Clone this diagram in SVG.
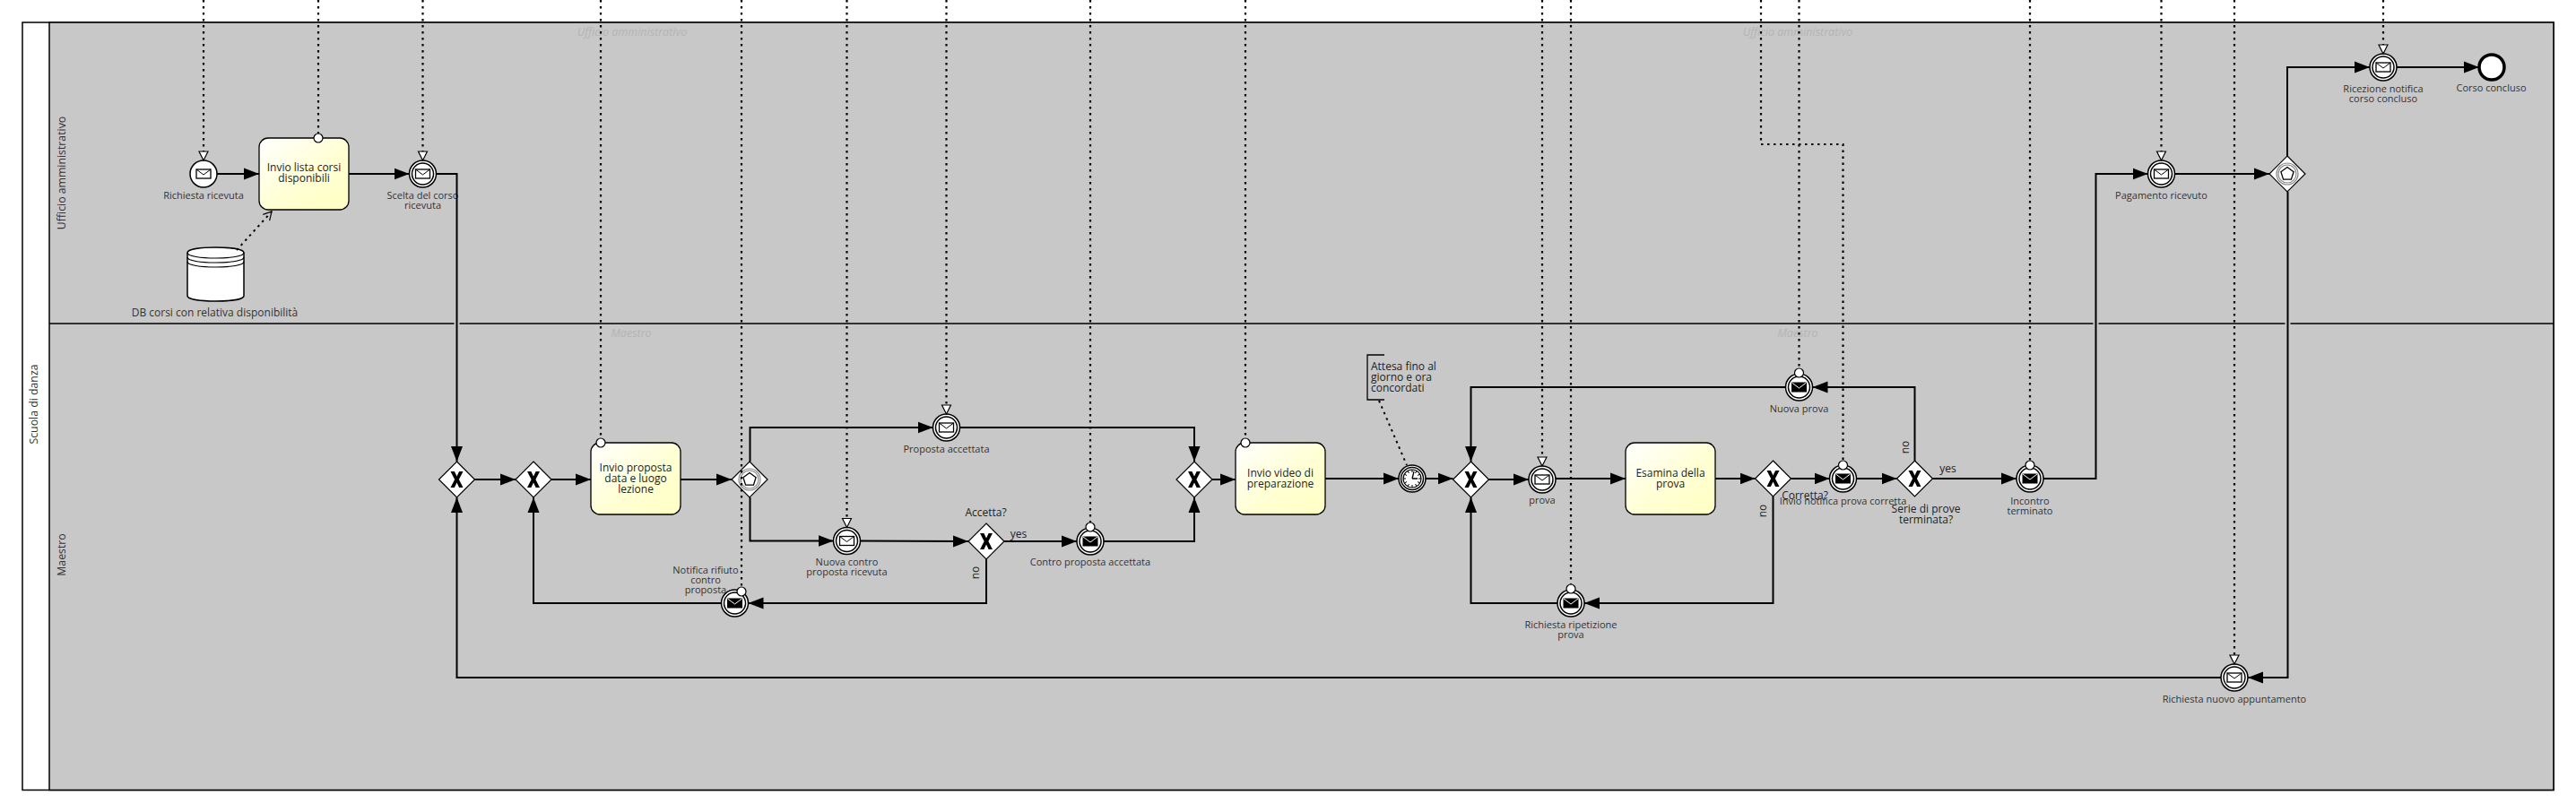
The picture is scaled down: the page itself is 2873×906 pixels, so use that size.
<svg xmlns="http://www.w3.org/2000/svg" xmlns:xlink="http://www.w3.org/1999/xlink" width="2873" height="906" viewBox="0 0 2873 906">
<style>
text{font-family:"Open Sans","Noto Sans","Liberation Sans",sans-serif;font-size:11px;fill:#333}
.c{text-anchor:middle}
.t{font-size:12px;fill:#222}
.w{font-size:12.500px;font-style:italic;fill:#b4b4b4}
.lane{font-size:12.300px;fill:#333;text-anchor:middle}
.seq{fill:none;stroke:#000;stroke-width:2;marker-end:url(#arrow)}
.msgin{fill:none;stroke:#000;stroke-width:2.200;stroke-dasharray:2.500 4.500;marker-end:url(#tri)}
.msgout{fill:none;stroke:#000;stroke-width:2.200;stroke-dasharray:2.500 4.500;marker-end:url(#dot)}
.assoc{fill:none;stroke:#000;stroke-width:2;stroke-dasharray:2.500 4.500}
.task{fill:url(#tg);stroke:#000;stroke-width:1.300}
.ev{fill:#fff;stroke:#000;stroke-width:1.500}
.gw{fill:#fff;stroke:#000;stroke-width:1.200}
</style>
<defs>
<linearGradient id="tg" x1="0" y1="0" x2="1" y2="1"><stop offset="0" stop-color="#ffffff"/><stop offset="0.55" stop-color="#ffffd4"/><stop offset="1" stop-color="#ffffc4"/></linearGradient>
<marker id="arrow" markerUnits="userSpaceOnUse" markerWidth="18" markerHeight="14" refX="17" refY="7" orient="auto"><path d="M0 .5L17 7L0 13.500z" fill="#000"/></marker>
<marker id="tri" markerUnits="userSpaceOnUse" markerWidth="14" markerHeight="14" refX="11" refY="6" orient="auto"><path d="M1 1L11 6L1 11z" fill="#fff" stroke="#000" stroke-width="1.200"/></marker>
<marker id="dot" markerUnits="userSpaceOnUse" markerWidth="14" markerHeight="14" refX="7" refY="7" orient="auto"><circle cx="7" cy="7" r="5" fill="#fff" stroke="#000" stroke-width="1.200"/></marker>
<marker id="open" markerUnits="userSpaceOnUse" markerWidth="14" markerHeight="14" refX="11" refY="7" orient="auto"><path d="M2 2L11 7L2 12" fill="none" stroke="#000" stroke-width="1.200"/></marker>
<g id="catch"><circle class="ev" r="15"/><circle class="ev" r="12" stroke-width="1.200"/><rect x="-8" y="-5" width="16" height="10" fill="#fff" stroke="#000" stroke-width="1.300"/><path d="M-8-5L0 1L8-5" fill="none" stroke="#000" stroke-width="1"/></g>
<g id="throw"><circle class="ev" r="15"/><circle class="ev" r="12" stroke-width="1.200"/><rect x="-8" y="-5" width="16" height="10" fill="#000" stroke="#000" stroke-width="1"/><path d="M-8-5L0 1L8-5" fill="none" stroke="#fff" stroke-width="1"/></g>
<g id="xor"><path class="gw" d="M0-20L20 0L0 20L-20 0z"/><path d="M-7-9H-2.600L0-3.600L2.600-9H7L2.400 0L7 9H2.600L0 3.600L-2.600 9H-7L-2.400 0z" fill="#000"/></g>
<g id="evgw"><path class="gw" d="M0-20L20 0L0 20L-20 0z"/><circle r="12" fill="none" stroke="#888" stroke-width="1.200"/><circle r="10" fill="none" stroke="#888" stroke-width="1.200"/><path d="M0-7.500L7.100-2.300L4.400 6.100H-4.400L-7.100-2.300z" fill="#fff" stroke="#000" stroke-width="1.300"/></g>
</defs>
<rect width="2873" height="906" fill="#fff"/>
<g id="pool">
<rect x="25" y="25" width="2823" height="856.500" fill="#fff" stroke="#000" stroke-width="1.500"/>
<rect x="55" y="25" width="2793" height="856.500" fill="#c8c8c8" stroke="#000" stroke-width="1.500"/>
<path d="M55 361H2848" stroke="#000" stroke-width="1.500"/>
<text class="lane" transform="translate(38 451) rotate(-90)" dy="4">Scuola di danza</text>
<text class="lane" transform="translate(69 193) rotate(-90)" dy="4">Ufficio amministrativo</text>
<text class="lane" transform="translate(69 619) rotate(-90)" dy="4">Maestro</text>
<text class="w c" x="705" y="40">Ufficio amministrativo</text>
<text class="w c" x="2005" y="40">Ufficio amministrativo</text>
<text class="w c" x="704" y="376">Maestro</text>
<text class="w c" x="2005" y="376">Maestro</text>
</g>
<g id="db"><path class="ev" d="M209 282C209 278 224 276 240.500 276C257 276 272 278 272 282V330C272 334 257 336 240.500 336C224 336 209 334 209 330z" stroke-width="1.300"/><path d="M209 282C209 286 224 288 240.500 288C257 288 272 286 272 282M209 287C209 291 224 293 240.500 293C257 293 272 291 272 287M209 292C209 296 224 298 240.500 298C257 298 272 296 272 292" fill="none" stroke="#000" stroke-width="1.200"/><text class="c" x="239.500" y="353" style="font-size:12px">DB corsi con relativa disponibilità</text></g>
<g id="n1"><circle class="ev" cx="227" cy="194" r="15"/><rect x="219" y="189" width="16" height="10" fill="#fff" stroke="#000" stroke-width="1.300"/><path d="M219 189L227 195L235 189" fill="none" stroke="#000"/><text class="c" x="227" y="222">Richiesta ricevuta</text></g>
<g id="n2"><rect class="task" x="289" y="154" width="100" height="80" rx="10"/><text class="t c" x="339" y="191">Invio lista corsi</text><text class="t c" x="339" y="203">disponibili</text></g>
<g id="n3"><use href="#catch" x="471.500" y="194"/><text class="c" x="471.500" y="222">Scelta del corso</text><text class="c" x="471.500" y="233">ricevuta</text></g>
<g id="n4"><use href="#xor" x="509.500" y="535"/></g>
<g id="n5"><use href="#xor" x="595" y="535"/></g>
<g id="n6"><rect class="task" x="659" y="494" width="100" height="80" rx="10"/><text class="t c" x="709" y="526">Invio proposta</text><text class="t c" x="709" y="538">data e luogo</text><text class="t c" x="709" y="550">lezione</text></g>
<g id="n7"><use href="#evgw" x="836" y="535"/></g>
<g id="n8"><use href="#catch" x="1055.500" y="477"/><text class="c" x="1055.500" y="505">Proposta accettata</text></g>
<g id="n9"><use href="#catch" x="944.500" y="603.500"/><text class="c" x="944.500" y="631">Nuova contro</text><text class="c" x="944.500" y="642">proposta ricevuta</text></g>
<g id="n10"><use href="#xor" x="1100" y="604"/><text class="t c" x="1099.500" y="576">Accetta?</text></g>
<g id="n11"><use href="#throw" x="819.500" y="673"/><text class="c" x="787" y="640">Notifica rifiuto</text><text class="c" x="787" y="651">contro</text><text class="c" x="787" y="662">proposta</text></g>
<g id="n12"><use href="#throw" x="1216" y="604"/><text class="c" x="1216" y="631">Contro proposta accettata</text></g>
<g id="n13"><use href="#xor" x="1332" y="535"/></g>
<g id="n14"><rect class="task" x="1378" y="494" width="100" height="80" rx="10"/><text class="t c" x="1428" y="532">Invio video di</text><text class="t c" x="1428" y="544">preparazione</text></g>
<g id="n15"><circle class="ev" cx="1575" cy="534" r="15"/><circle class="ev" cx="1575" cy="534" r="12.500" stroke-width="1.200"/><circle cx="1575" cy="534" r="10" fill="#fff" stroke="#000" stroke-width="1.200"/><path d="M1575 524V527M1575 541V544M1565 534H1568M1582 534H1585M1580 525.300L1578.500 528M1570 542.700L1571.500 540M1583.700 529L1581 530.500M1566.300 539L1569 537.500M1580 542.700L1578.500 540M1570 525.300L1571.500 528M1583.700 539L1581 537.500M1566.300 529L1569 530.500" stroke="#000" stroke-width="1"/><path d="M1575 534L1577 526M1575 534H1581" fill="none" stroke="#000" stroke-width="1.300"/></g>
<g id="n16"><path d="M1544 396H1525V446H1544" fill="none" stroke="#000" stroke-width="1.300"/><text class="t" x="1529" y="413">Attesa fino al</text><text class="t" x="1529" y="425">giorno e ora</text><text class="t" x="1529" y="437">concordati</text></g>
<g id="n17"><use href="#xor" x="1640.500" y="535"/></g>
<g id="n18"><use href="#catch" x="1720" y="535"/><text class="c" x="1720" y="562">prova</text></g>
<g id="n19"><rect class="task" x="1813" y="494" width="100" height="80" rx="10"/><text class="t c" x="1863" y="532">Esamina della</text><text class="t c" x="1863" y="544">prova</text></g>
<g id="n20"><use href="#xor" x="1977.500" y="534"/><text class="t c" x="2013" y="557">Corretta?</text></g>
<g id="n21"><use href="#throw" x="2055.500" y="534"/><text class="c" x="2055.500" y="563">Invio notifica prova corretta</text></g>
<g id="n22"><use href="#xor" x="2135.500" y="534"/><text class="t c" x="2148" y="572">Serie di prove</text><text class="t c" x="2148" y="584">terminata?</text></g>
<g id="n23"><use href="#throw" x="2264" y="534"/><text class="c" x="2264" y="563">Incontro</text><text class="c" x="2264" y="574">terminato</text></g>
<g id="n24"><use href="#throw" x="2006.500" y="432"/><text class="c" x="2006.500" y="460">Nuova prova</text></g>
<g id="n25"><use href="#throw" x="1752" y="673"/><text class="c" x="1752" y="701">Richiesta ripetizione</text><text class="c" x="1752" y="712">prova</text></g>
<g id="n26"><use href="#catch" x="2492" y="756"/><text class="c" x="2492" y="784">Richiesta nuovo appuntamento</text></g>
<g id="n27"><use href="#catch" x="2410.500" y="194"/><text class="c" x="2410.500" y="222">Pagamento ricevuto</text></g>
<g id="n28"><use href="#evgw" x="2551" y="194"/></g>
<g id="n29"><use href="#catch" x="2658" y="75"/><text class="c" x="2658" y="103">Ricezione notifica</text><text class="c" x="2658" y="114">corso concluso</text></g>
<g id="n30"><circle cx="2779" cy="75" r="14" fill="#fff" stroke="#000" stroke-width="3.500"/><text class="c" x="2778.500" y="102">Corso concluso</text></g>
<g id="connectors">
<path d="M506.500 361H512.500M2334.500 361H2340.500M2548.500 361H2554.500" stroke="#c8c8c8" stroke-width="3"/>
<path class="seq" d="M242 194H289"/>
<path class="seq" d="M389 194H456.500"/>
<path class="seq" d="M486.500 194H509.500V515"/>
<path class="seq" d="M529.500 535H575"/>
<path class="seq" d="M615 535H659"/>
<path class="seq" d="M759 535H816"/>
<path class="seq" d="M836.500 515V477H1040.500"/>
<path class="seq" d="M1070.500 477H1332V515"/>
<path class="seq" d="M836.500 555V603.500H929.500"/>
<path class="seq" d="M959.500 603.500L1080 604"/>
<path class="seq" d="M1120 604H1201"/>
<path class="seq" d="M1231 604H1332V555"/>
<path class="seq" d="M1100 624V673H834.500"/>
<path class="seq" d="M804.500 673H595V555"/>
<path class="seq" d="M2477 756H509.500V555"/>
<path class="seq" d="M1352 535H1378"/>
<path class="seq" d="M1478 534H1560"/>
<path class="seq" d="M1590 534H1620.500"/>
<path class="seq" d="M1660.500 535H1705"/>
<path class="seq" d="M1735 534H1813"/>
<path class="seq" d="M1913 534H1957.500"/>
<path class="seq" d="M1997.500 534H2040.500"/>
<path class="seq" d="M2070.500 534H2115.500"/>
<path class="seq" d="M2155.500 534H2249"/>
<path class="seq" d="M2279 534H2337.500V194H2395.500"/>
<path class="seq" d="M2425.500 194H2531"/>
<path class="seq" d="M2551 174V75H2643"/>
<path class="seq" d="M2673 75H2765"/>
<path class="seq" d="M2551.500 214V756H2507"/>
<path class="seq" d="M2135.500 514V432H2021.500"/>
<path class="seq" d="M1991.500 432H1640.500V515"/>
<path class="seq" d="M1977.500 554V673H1767"/>
<path class="seq" d="M1737 673H1640.500V555"/>
<path class="msgin" d="M227 0V179"/>
<path class="msgin" d="M471.500 0V179"/>
<path class="msgin" d="M1055.500 0V462"/>
<path class="msgin" d="M944.500 0V588.500"/>
<path class="msgin" d="M1720 0V520"/>
<path class="msgin" d="M2410.500 0V179"/>
<path class="msgin" d="M2492 0V741"/>
<path class="msgin" d="M2658 0V60"/>
<path class="msgout" d="M355 0V154"/>
<path class="msgout" d="M670 0V494"/>
<path class="msgout" d="M827 0V660"/>
<path class="msgout" d="M1216 0V588"/>
<path class="msgout" d="M1389 0V494"/>
<path class="msgout" d="M1752 0V657"/>
<path class="msgout" d="M2006.500 0V416"/>
<path class="msgout" d="M2264 0V519"/>
<path class="msgout" d="M1964 0V161H2055.500V519"/>
<path class="assoc" d="M264 279L303 236" marker-end="url(#open)"/>
<path class="assoc" d="M1538 447L1569 519"/>
<text class="t c" x="1136" y="600">yes</text>
<text class="t c" x="2172.500" y="527">yes</text>
<text class="t c" transform="translate(1088 639) rotate(-90)" dy="4">no</text>
<text class="t c" transform="translate(1966 570) rotate(-90)" dy="4">no</text>
<text class="t c" transform="translate(2125 499) rotate(-90)" dy="4">no</text>
</g>
</svg>
